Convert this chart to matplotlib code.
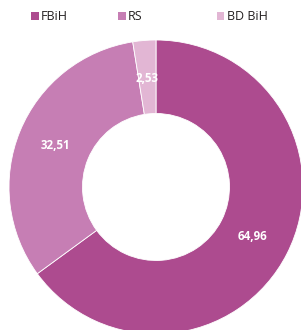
import matplotlib
matplotlib.use("Agg")
import matplotlib.pyplot as plt
import numpy as np
from matplotlib.patches import Patch

categories = ["FBiH", "RS", "BD BiH"]
values = [64.96, 32.51, 2.53]
colors = ["#ad4b8f", "#c67eb4", "#e2b6d4"]

W, H = 301, 330
fig = plt.figure(figsize=(W / 100, H / 100), dpi=100)
ax = fig.add_axes([0, 0, 1, 1])

# pie centre/radius in pixel units (pie is clipped at the bottom/right like the original)
cx, cy, r = 156, H - 187, 147
labels_txt = [f"{v:.2f}".replace(".", ",") for v in values]
wedges, _ = ax.pie(values, colors=colors, startangle=90, counterclock=False,
                   center=(cx, cy), radius=r,
                   wedgeprops=dict(width=r * 0.5, linewidth=0.6, edgecolor="white"),
                   frame=True)
ax.set_xlim(0, W)
ax.set_ylim(0, H)
ax.set_aspect("equal")
ax.axis("off")

# value labels at the middle of the ring
start = 90.0
for v, t in zip(values, labels_txt):
    mid = np.deg2rad(start - v / 100 * 360 / 2)
    start -= v / 100 * 360
    ax.text(cx + 0.74 * r * np.cos(mid), cy + 0.74 * r * np.sin(mid), t,
            ha="center", va="center", color="white", fontsize=8.3,
            fontweight="bold", family="Open Sans")

# legend entries spaced like the original
leg_x = [31, 118, 217]
for x, name, c in zip(leg_x, categories, colors):
    lg = fig.legend(handles=[Patch(facecolor=c, edgecolor="none")], labels=[name],
                    loc="center left", bbox_to_anchor=(x / W, 1 - 17 / H),
                    frameon=False, handlelength=0.6, handleheight=0.6,
                    handletextpad=0.2, borderpad=0, borderaxespad=0,
                    prop=dict(family="Open Sans", size=9))
    for t in lg.get_texts():
        t.set_color("#231f20")

fig.savefig("out.png", dpi=100)
